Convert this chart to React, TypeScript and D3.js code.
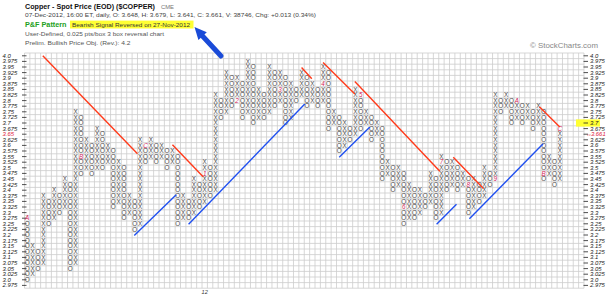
import React from "react";
import * as d3 from "d3";

const W = 615;
const H = 298;
const NCOLS = 104;
const NROWS = 42;
const TOP_PRICE = 4.0;
const BOX = 0.025;

// Point & Figure columns (O = falling, X = rising)
const colTypes =
  "OXOXOXOXOX" + "OXOXOXOXOX" + "OXOXOXOXOX" + "OXOXOXOXOX" + "OXOXOXOXOX" +
  "OXOXOXOXOX" + "OXOXOXOXOX" + "OXOXOXOXOX" + "OXOXOXOXOX" + "OXOXOXOXOX";

const colTops = [
  3.275, 3.15, 3.125, 3.375, 3.35, 3.4, 3.375, 3.45, 3.425, 3.75,
  3.725, 3.625, 3.6, 3.675, 3.65, 3.6, 3.575, 3.525, 3.5, 3.375,
  3.35, 3.625, 3.6, 3.625, 3.6, 3.6, 3.575, 3.575, 3.55, 3.375,
  3.35, 3.45, 3.425, 3.525, 3.5, 3.825, 3.8, 3.925, 3.9, 3.9,
  3.875, 3.975, 3.95, 3.85, 3.825, 3.95, 3.925, 3.925, 3.9, 3.875,
  3.85, 3.925, 3.9, 3.875, 3.85, 3.95, 3.925, 3.75, 3.725, 3.7,
  3.675, 3.85, 3.825, 3.75, 3.725, 3.7, 3.675, 3.525, 3.5, 3.5,
  3.475, 3.425, 3.4, 3.4, 3.375, 3.475, 3.45, 3.55, 3.525, 3.525,
  3.5, 3.475, 3.45, 3.45, 3.425, 3.5, 3.475, 3.825, 3.8, 3.825,
  3.8, 3.8, 3.775, 3.775, 3.75, 3.775, 3.75, 3.55, 3.525, 3.675,
];

const colBottoms = [
  3.0, 3.025, 3.05, 3.075, 3.25, 3.275, 3.3, 3.325, 3.05, 3.075,
  3.475, 3.5, 3.475, 3.5, 3.5, 3.525, 3.325, 3.35, 3.275, 3.3,
  3.225, 3.25, 3.525, 3.55, 3.525, 3.55, 3.5, 3.525, 3.25, 3.275,
  3.275, 3.3, 3.325, 3.35, 3.375, 3.4, 3.725, 3.75, 3.775, 3.8,
  3.725, 3.75, 3.7, 3.725, 3.725, 3.75, 3.775, 3.8, 3.7, 3.725,
  3.8, 3.825, 3.775, 3.8, 3.775, 3.8, 3.675, 3.7, 3.575, 3.6,
  3.625, 3.65, 3.675, 3.7, 3.625, 3.65, 3.45, 3.475, 3.4, 3.425,
  3.25, 3.275, 3.275, 3.3, 3.325, 3.35, 3.275, 3.3, 3.4, 3.425,
  3.4, 3.425, 3.3, 3.325, 3.35, 3.375, 3.425, 3.45, 3.75, 3.775,
  3.7, 3.725, 3.7, 3.725, 3.675, 3.7, 3.45, 3.475, 3.425, 3.45,
];

// month markers (first box of each month)
const monthCols = [0, 10, 22, 33, 39, 47, 55, 62, 70, 77, 82, 87, 91, 96, 99];
const monthPrices = [3.275, 3.55, 3.6, 3.475, 3.8, 3.85, 3.875, 3.825, 3.325, 3.525, 3.425, 3.45, 3.8, 3.475, 3.675];
const monthLabels = ["A", "B", "C", "1", "2", "3", "4", "5", "6", "7", "8", "9", "A", "B", "C"];
const yearCol = 33;
const yearLabel = "12";

// trend lines: [startCol, startPrice, endCol, endPrice]
const bearishLines = [
  [3.4, 4.0, 21.0, 3.5625],
  [27.5, 3.6025, 33.2, 3.46],
  [51.5, 3.9475, 53.4, 3.8975],
  [55.5, 3.97, 61.4, 3.83],
  [61.4, 3.885, 77.2, 3.485],
  [79.7, 3.5475, 85.3, 3.4075],
  [95.7, 3.7725, 99.5, 3.6825],
];
const bullishLines = [
  [20.4, 3.1975, 28.2, 3.38],
  [30.5, 3.2475, 52.1, 3.785],
  [58.5, 3.5475, 64.2, 3.6825],
  [76.6, 3.2475, 80.3, 3.3375],
  [82.7, 3.2725, 96.4, 3.6075],
];

const lastClose = 3.661;
const lastCloseBox = 3.65;
const highlightPrice = 3.7;

const titleText = "Copper - Spot Price (EOD) ($COPPER)";
const exchangeText = "CME";
const quoteText =
  "07-Dec-2012, 16:00 ET, daily, O: 3.648, H: 3.679, L: 3.641, C: 3.661, V: 38746, Chg: +0.013 (0.34%)";
const patternLabel = "P&F Pattern";
const patternText = "Bearish Signal Reversed on 27-Nov-2012";
const boxText = "User-Defined, 0.025 pts/box 3 box reversal chart";
const objText = "Prelim. Bullish Price Obj. (Rev.): 4.2";
const creditText = "\u00A9 StockCharts.com";

const fmt = (p: number) => {
  const s = p.toFixed(3).replace(/0+$/, "");
  return s.endsWith(".") ? s + "0" : s;
};

export default function App() {
  const gridLeft = 24.5;
  const gridRight = 584;
  const gridTop = 53;
  const gridBottom = 288.2;

  const x = d3.scaleLinear().domain([0, NCOLS]).range([gridLeft, gridRight]);
  const y = d3
    .scaleLinear()
    .domain([TOP_PRICE + BOX / 2, TOP_PRICE + BOX / 2 - NROWS * BOX])
    .range([gridTop, gridBottom]);

  const axisPrices = d3.range(NROWS).map((i) => TOP_PRICE - i * BOX);

  const monthMap = new Map<string, string>();
  monthCols.forEach((c, i) => {
    monthMap.set(`${c}_${Math.round((TOP_PRICE - monthPrices[i]) / BOX)}`, monthLabels[i]);
  });

  const boxes: { c: number; r: number; t: string; month: boolean }[] = [];
  colTops.forEach((top, c) => {
    const rTop = Math.round((TOP_PRICE - top) / BOX);
    const rBot = Math.round((TOP_PRICE - colBottoms[c]) / BOX);
    for (let r = rTop; r <= rBot; r++) {
      const key = `${c}_${r}`;
      if (monthMap.has(key)) boxes.push({ c, r, t: monthMap.get(key)!, month: true });
      else boxes.push({ c, r, t: colTypes[c], month: false });
    }
  });

  const rowPrice = (r: number) => TOP_PRICE - r * BOX;

  return (
    <svg
      width={W}
      height={H}
      style={{ position: "absolute", left: 0, top: 0, background: "#fff" }}
      fontFamily="'Liberation Sans', Arial, sans-serif"
    >
      <rect x={0} y={0} width={W} height={H} fill="#fff" />

      {/* header */}
      <text x={25} y={9} fontSize={7.2} fontWeight="bold" fill="#111" textLength={130} lengthAdjust="spacingAndGlyphs">
        {titleText}
      </text>
      <text x={161} y={9} fontSize={5.6} fill="#777" textLength={13} lengthAdjust="spacingAndGlyphs">
        {exchangeText}
      </text>
      <text x={25} y={17.3} fontSize={5.6} fill="#444" textLength={291} lengthAdjust="spacingAndGlyphs">
        {quoteText}
      </text>
      <text x={25} y={26.6} fontSize={7} fontWeight="bold" fill="#22a022" textLength={41.5} lengthAdjust="spacingAndGlyphs">
        {patternLabel}
      </text>
      <rect x={70} y={20.6} width={123.5} height={7.9} fill="#ffff33" />
      <text x={72} y={26.6} fontSize={5.8} fill="#333" textLength={118} lengthAdjust="spacingAndGlyphs">
        {patternText}
      </text>
      <text x={25} y={35.6} fontSize={5.6} fill="#555" textLength={139} lengthAdjust="spacingAndGlyphs">
        {boxText}
      </text>
      <text x={25} y={45} fontSize={5.6} fill="#555" textLength={105.5} lengthAdjust="spacingAndGlyphs">
        {objText}
      </text>
      <text x={530} y={47.5} fontSize={7} fill="#888" textLength={68} lengthAdjust="spacingAndGlyphs">
        {creditText}
      </text>

      {/* grid */}
      <g stroke="#cdcdcd" strokeWidth={0.8}>
        {d3.range(NCOLS + 1).map((c) => (
          <line key={"v" + c} x1={x(c)} x2={x(c)} y1={gridTop} y2={gridBottom} />
        ))}
        {d3.range(NROWS + 1).map((r) => (
          <line
            key={"h" + r}
            x1={gridLeft}
            x2={gridRight}
            y1={y(TOP_PRICE + BOX / 2 - r * BOX)}
            y2={y(TOP_PRICE + BOX / 2 - r * BOX)}
          />
        ))}
      </g>

      {/* left axis */}
      <g fontSize={5.9} fontStyle="italic">
        {axisPrices.map((p, i) => (
          <g key={"la" + i}>
            <line x1={22} x2={26.5} y1={y(p)} y2={y(p)} stroke="#222" strokeWidth={0.8} />
            <text x={2.5} y={y(p)} dy="0.35em" fill={Math.abs(p - lastCloseBox) < 1e-6 ? "#e0203c" : "#222"}>
              {fmt(p)}
            </text>
          </g>
        ))}
      </g>

      {/* right axis */}
      <rect x={576} y={y(highlightPrice) - 3.6} width={24} height={7.2} fill="#ffff33" />
      <g fontSize={5.9} fontStyle="italic">
        {axisPrices.map((p, i) => {
          const isLast = Math.abs(p - lastCloseBox) < 1e-6;
          return (
            <g key={"ra" + i}>
              <line x1={583.5} x2={588} y1={y(p)} y2={y(p)} stroke="#222" strokeWidth={0.8} />
              <text x={isLast ? 587 : 590} y={y(p)} dy="0.35em" fill={isLast ? "#e0203c" : "#222"}>
                {isLast ? "\u2039\u2039" + lastClose.toFixed(3) : fmt(p)}
              </text>
            </g>
          );
        })}
      </g>

      {/* year label */}
      <text x={x(yearCol + 0.5)} y={293.5} fontSize={5.6} fontStyle="italic" fill="#333" textAnchor="middle">
        {yearLabel}
      </text>

      {/* X / O boxes */}
      <g fontSize={6.3} textAnchor="middle">
        {boxes.map((b, i) => (
          <text
            key={"b" + i}
            x={x(b.c + 0.5)}
            y={y(rowPrice(b.r))}
            dy="0.36em"
            fill={b.month ? "#d4245a" : "#4a4a4a"}
            fontStyle={b.month ? "italic" : "normal"}
          >
            {b.t}
          </text>
        ))}
      </g>

      {/* trend lines */}
      <g stroke="#ff3a1a" strokeWidth={1.4}>
        {bearishLines.map((l, i) => (
          <line key={"rl" + i} x1={x(l[0])} y1={y(l[1])} x2={x(l[2])} y2={y(l[3])} />
        ))}
      </g>
      <g stroke="#2050f0" strokeWidth={1.4}>
        {bullishLines.map((l, i) => (
          <line key={"bl" + i} x1={x(l[0])} y1={y(l[1])} x2={x(l[2])} y2={y(l[3])} />
        ))}
      </g>

      {/* annotation arrow */}
      <line x1={221} y1={56} x2={202.5} y2={36} stroke="#1a4bd8" strokeWidth={5} strokeLinecap="round" />
      <polygon points="194.5,27 206.8,32.2 198.4,40" fill="#1a4bd8" />
    </svg>
  );
}
